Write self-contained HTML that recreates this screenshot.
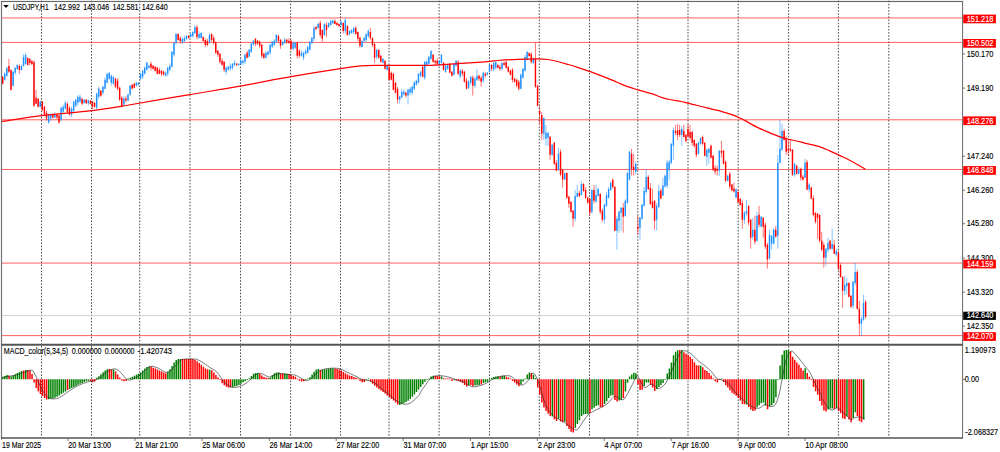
<!DOCTYPE html><html><head><meta charset="utf-8"><style>html,body{margin:0;padding:0;background:#fff;width:1000px;height:452px;overflow:hidden}</style></head><body><svg width="1000" height="452" viewBox="0 0 1000 452" style="display:block;position:absolute;left:0;top:0">
<rect width="1000" height="452" fill="#fff"/>
<rect x="0" y="0" width="1" height="439" fill="#f0f0f0"/><rect x="0" y="0" width="964" height="1" fill="#f0f0f0"/>
<path d="M41.50 0.7V343.5M41.50 346.1V437M91.50 0.7V343.5M91.50 346.1V437M139.70 0.7V343.5M139.70 346.1V437M190.00 0.7V343.5M190.00 346.1V437M240.50 0.7V343.5M240.50 346.1V437M290.60 0.7V343.5M290.60 346.1V437M340.50 0.7V343.5M340.50 346.1V437M389.00 0.7V343.5M389.00 346.1V437M439.10 0.7V343.5M439.10 346.1V437M489.50 0.7V343.5M489.50 346.1V437M539.30 0.7V343.5M539.30 346.1V437M589.50 0.7V343.5M589.50 346.1V437M637.80 0.7V343.5M637.80 346.1V437M688.00 0.7V343.5M688.00 346.1V437M738.20 0.7V343.5M738.20 346.1V437M788.60 0.7V343.5M788.60 346.1V437M838.40 0.7V343.5M838.40 346.1V437M888.80 0.7V343.5M888.80 346.1V437" stroke="#4c4c4c" stroke-width="1" stroke-dasharray="1.57 1.57" fill="none"/>
<line x1="2" x2="962.5" y1="17.96" y2="17.96" stroke="#ff0000" stroke-width="0.78" stroke-opacity="0.8"/>
<line x1="2" x2="962.5" y1="42.4" y2="42.4" stroke="#ff0000" stroke-width="0.78" stroke-opacity="0.8"/>
<line x1="2" x2="962.5" y1="119.8" y2="119.8" stroke="#ff0000" stroke-width="0.78" stroke-opacity="0.8"/>
<line x1="2" x2="962.5" y1="169.5" y2="169.5" stroke="#ff0000" stroke-width="0.78" stroke-opacity="0.8"/>
<line x1="2" x2="962.5" y1="263.1" y2="263.1" stroke="#ff0000" stroke-width="0.78" stroke-opacity="0.8"/>
<line x1="2" x2="962.5" y1="335.6" y2="335.6" stroke="#ff0000" stroke-width="0.78" stroke-opacity="0.8"/>
<line x1="2" x2="962.5" y1="315.6" y2="315.6" stroke="#d0d0d0" stroke-width="1"/>
<path d="M2.64 76.0V84.4M8.91 58.9V73.0M11.00 69.3V90.8M19.36 64.4V73.8M27.71 57.3V65.5M29.80 58.1V65.0M31.89 60.2V65.2M33.98 60.4V106.6M36.07 89.8V104.3M38.16 98.1V107.4M42.34 100.9V111.0M44.43 105.6V115.4M46.52 110.7V120.3M52.79 112.9V118.4M56.97 113.7V119.5M59.06 115.0V123.7M67.41 102.0V113.0M69.50 106.3V115.7M82.04 97.8V105.3M86.22 99.1V103.9M90.40 100.1V104.4M92.49 100.8V109.0M94.58 102.1V107.7M100.85 90.0V96.7M115.47 77.9V88.1M117.56 78.2V90.4M119.65 86.6V101.2M121.74 96.1V107.3M125.92 96.3V102.6M132.19 84.1V89.3M134.28 83.0V88.3M150.99 61.6V70.5M153.08 64.7V69.9M155.17 66.1V71.4M157.26 66.9V74.5M159.35 67.6V74.4M161.44 70.1V76.3M163.53 70.5V75.4M178.16 33.1V40.6M180.25 35.8V43.6M188.61 35.0V38.5M196.96 24.8V39.6M203.23 36.2V41.6M205.32 38.4V47.2M207.41 38.7V46.0M211.59 33.3V41.4M213.68 35.5V44.8M215.77 41.0V53.9M217.86 50.2V56.8M219.95 53.0V63.8M222.04 58.1V65.7M224.13 60.8V72.3M236.66 62.9V66.0M247.11 50.7V58.4M255.47 38.2V46.2M257.56 40.0V44.9M259.65 40.5V48.2M261.74 43.8V58.2M263.83 52.6V59.0M278.45 34.6V42.8M280.54 39.2V48.8M286.81 38.5V43.7M288.90 38.4V43.9M290.99 39.4V50.0M297.26 41.7V58.3M299.35 49.1V58.0M316.06 26.2V30.6M320.24 20.6V37.5M322.33 29.2V41.8M326.51 22.1V36.8M334.87 19.2V24.5M336.96 21.6V25.9M339.05 23.3V26.7M343.23 22.3V33.6M347.41 25.3V35.6M355.77 25.8V34.6M357.86 31.2V41.3M359.94 36.5V47.5M370.39 28.0V40.1M372.48 37.3V47.1M374.57 42.8V62.8M378.75 49.1V58.5M380.84 54.6V62.5M385.02 60.2V69.5M389.20 65.9V80.5M391.29 71.6V80.4M393.38 72.9V90.3M395.47 82.0V93.3M397.56 86.9V103.6M405.91 91.5V97.8M422.63 66.0V77.4M433.08 54.2V62.8M435.17 60.1V65.4M437.26 58.1V65.0M443.52 62.2V70.7M449.79 63.2V73.5M451.88 71.1V76.7M458.15 60.4V75.0M462.33 69.0V76.0M464.42 70.8V82.5M466.51 78.0V89.3M472.78 75.4V95.6M479.05 74.6V80.9M481.14 75.8V86.8M485.31 72.2V77.5M491.58 64.2V71.0M497.85 63.7V68.4M499.94 64.8V70.7M504.12 61.3V65.5M506.21 60.1V68.6M508.30 66.2V72.6M510.39 69.1V75.5M512.48 68.0V82.5M514.57 77.7V82.7M516.66 78.7V87.4M518.75 79.9V90.7M529.19 52.3V56.7M531.28 52.3V63.5M535.46 42.6V87.8M537.55 84.7V106.3M539.64 106.0V123.9M541.73 112.2V139.8M550.09 136.1V159.7M554.27 142.2V164.9M556.36 160.1V171.3M560.54 149.4V176.3M562.63 168.9V187.6M566.81 172.4V199.0M568.89 195.8V207.8M570.98 201.2V212.6M573.07 210.0V226.7M579.34 190.4V197.6M583.52 183.0V191.8M585.61 187.1V199.2M587.70 197.0V203.8M589.79 198.1V215.8M593.97 184.9V203.4M600.24 193.0V214.4M602.33 208.5V221.8M612.77 178.1V188.4M614.86 186.1V231.3M623.22 202.8V232.7M631.58 148.8V175.6M633.67 153.7V175.6M637.85 215.8V234.7M648.30 175.1V189.9M650.38 182.9V205.0M652.47 188.9V208.6M654.56 200.2V229.7M660.83 188.4V199.3M675.46 124.9V134.9M677.55 123.9V139.9M679.64 124.9V137.1M683.82 124.9V137.5M685.91 133.7V142.5M688.00 123.9V137.6M690.09 124.9V139.8M692.18 130.8V145.8M694.26 139.3V147.8M696.35 143.1V157.2M702.62 135.4V145.5M704.71 142.2V156.4M710.98 144.4V158.4M713.07 155.0V170.8M715.16 165.1V174.7M717.25 165.7V175.7M721.43 140.9V157.8M723.52 150.0V164.3M725.61 160.6V182.3M729.79 172.1V189.1M731.88 183.9V191.2M733.97 182.7V192.6M738.14 189.9V203.7M740.23 197.7V205.6M742.32 200.2V228.8M748.59 205.1V225.4M750.68 218.7V248.7M754.86 215.8V244.3M759.04 205.9V227.5M763.22 217.2V237.7M765.31 222.4V249.0M767.40 242.9V268.6M775.75 225.8V237.6M784.11 128.9V140.5M786.20 136.2V154.8M788.29 139.9V155.8M790.38 139.9V151.8M792.47 149.2V175.8M796.65 165.1V174.6M800.83 167.7V180.7M802.92 174.8V180.3M807.10 159.7V190.4M811.28 186.8V199.3M813.37 195.3V216.3M815.46 212.1V223.6M817.55 213.0V238.8M819.63 214.3V242.6M821.72 231.8V251.2M823.81 242.2V267.6M830.08 239.8V249.5M834.26 239.8V254.4M838.44 250.6V270.5M840.53 263.5V277.7M842.62 276.1V307.7M848.89 282.1V297.4M850.98 295.2V308.0M857.25 269.9V309.4M859.34 300.8V335.6M865.60 300.3V318.7" stroke="#ff0000" stroke-width="0.55" fill="none"/>
<path d="M4.73 72.3V80.4M6.82 66.6V76.7M13.09 71.2V86.4M15.18 66.9V74.9M17.27 64.2V69.6M21.45 64.5V70.8M23.54 54.2V66.5M25.62 52.7V64.7M40.25 100.1V107.7M48.61 113.9V123.9M50.70 113.4V120.9M54.88 111.9V118.3M61.15 107.1V121.2M63.24 104.8V113.0M65.33 100.4V109.5M71.59 106.5V117.2M73.68 100.6V112.2M75.77 99.1V107.4M77.86 95.2V105.5M79.95 94.6V102.5M84.13 99.1V103.8M88.31 99.7V105.2M96.67 92.5V110.0M98.76 86.7V99.0M102.94 85.9V95.1M105.03 77.2V89.4M107.12 73.2V83.5M109.20 72.1V79.9M111.29 74.5V85.8M113.38 76.2V84.8M123.83 96.2V106.5M128.01 93.7V101.5M130.10 85.0V96.1M136.37 81.8V86.3M138.46 82.1V85.3M140.55 73.1V79.6M142.64 70.1V79.0M144.73 66.3V74.4M146.82 62.0V70.6M148.91 64.9V68.4M165.62 71.5V76.3M167.71 66.5V76.4M169.80 63.5V71.4M171.89 51.1V67.6M173.98 42.2V56.7M176.07 32.7V44.8M182.34 36.7V43.9M184.43 35.8V42.7M186.52 35.2V40.1M190.69 33.3V37.7M192.78 31.2V37.6M194.87 24.7V34.0M199.05 31.3V38.8M201.14 32.2V38.6M209.50 33.4V43.9M226.22 66.0V74.7M228.31 66.1V70.4M230.40 63.4V70.8M232.49 63.1V69.8M234.57 60.1V66.3M238.75 63.1V65.6M240.84 58.1V65.3M242.93 59.5V65.2M245.02 53.7V64.0M249.20 49.0V57.5M251.29 43.1V53.1M253.38 40.1V45.8M265.92 51.6V58.3M268.01 50.7V55.4M270.10 44.2V54.8M272.19 41.2V47.9M274.27 39.1V46.1M276.36 34.0V43.0M282.63 41.1V45.6M284.72 37.9V44.0M293.08 41.6V50.4M295.17 41.8V49.0M301.44 50.2V56.5M303.53 51.5V60.3M305.62 48.6V54.4M307.71 46.2V53.8M309.80 41.2V50.5M311.89 37.2V44.4M313.98 25.9V41.2M318.15 22.4V28.5M324.42 23.0V36.0M328.60 22.3V27.9M330.69 19.7V25.8M332.78 19.8V24.1M341.14 20.5V26.1M345.32 18.1V33.6M349.50 30.3V35.8M351.59 29.1V33.5M353.68 26.9V34.3M362.03 40.3V47.5M364.12 36.3V41.9M366.21 33.3V42.4M368.30 29.5V37.9M376.66 48.6V59.3M382.93 58.2V63.5M387.11 65.0V70.6M399.65 96.0V103.6M401.73 89.1V98.3M403.82 89.6V95.7M408.00 88.7V104.6M410.09 87.0V95.4M412.18 85.8V94.8M414.27 81.0V90.2M416.36 79.7V85.6M418.45 73.1V83.3M420.54 71.1V77.5M424.72 61.2V79.9M426.81 59.5V66.4M428.90 56.0V64.5M430.99 50.1V59.9M439.35 60.1V66.4M441.44 54.0V63.7M445.61 64.7V72.9M447.70 64.1V69.9M453.97 63.2V75.3M456.06 60.0V66.5M460.24 68.9V78.3M468.60 80.0V89.2M470.69 76.1V84.8M474.87 76.9V87.7M476.96 68.8V80.9M483.23 71.5V83.1M487.40 72.1V75.4M489.49 64.2V72.7M493.67 61.6V71.3M495.76 60.4V69.5M502.03 61.7V70.1M520.84 73.3V89.4M522.93 68.2V78.5M525.01 55.1V71.6M527.10 50.6V60.5M533.37 57.3V63.7M543.82 117.3V139.8M545.91 124.9V145.8M548.00 131.8V145.8M552.18 144.1V156.1M558.45 147.8V170.8M564.72 172.5V180.2M575.16 189.9V221.7M577.25 184.9V197.5M581.43 181.5V195.6M591.88 189.3V213.9M596.06 184.9V202.6M598.15 187.7V196.5M604.42 203.3V223.7M606.51 192.3V207.1M608.60 187.1V198.4M610.68 181.1V190.9M616.95 216.3V249.6M619.04 210.7V232.7M621.13 207.0V230.7M625.31 199.3V216.6M627.40 171.7V203.8M629.49 151.1V180.3M635.76 161.3V174.4M639.94 217.1V239.6M642.03 204.0V219.4M644.12 186.9V206.6M646.21 169.0V194.2M656.65 203.1V230.7M658.74 184.9V208.3M662.92 177.7V196.3M665.01 174.7V187.7M667.10 160.1V187.8M669.19 159.5V179.7M671.28 143.2V164.5M673.37 127.5V159.8M681.73 126.2V145.8M698.44 141.3V154.6M700.53 137.2V144.6M706.80 148.6V165.7M708.89 147.9V163.7M719.34 150.1V175.7M727.70 174.7V181.4M736.05 188.0V198.3M744.41 210.8V223.8M746.50 199.9V215.7M752.77 217.8V239.7M756.95 211.8V241.6M761.13 216.2V227.4M769.49 229.8V259.5M771.58 235.1V249.7M773.67 227.9V244.3M777.84 155.0V248.7M779.93 120.0V163.3M782.02 123.9V150.7M794.56 162.8V176.7M798.74 167.3V174.3M805.01 158.8V178.3M809.19 182.8V192.0M825.90 248.0V265.6M827.99 237.8V252.3M832.17 228.8V249.9M836.35 248.7V256.5M844.71 275.9V294.8M846.80 277.9V294.8M853.07 281.0V308.5M855.16 263.0V285.6M861.42 317.0V335.6M863.51 294.8V320.7" stroke="#1e90ff" stroke-width="0.55" fill="none"/>
<path d="M2.64 76.8V83.8M8.91 65.9V71.8M11.00 69.9V89.8M19.36 65.9V69.9M27.71 57.9V64.9M29.80 58.9V62.9M31.89 60.9V63.9M33.98 61.9V105.7M36.07 97.7V103.7M38.16 98.7V106.7M42.34 101.7V109.7M44.43 106.7V114.6M46.52 112.7V118.6M52.79 114.6V117.6M56.97 114.6V117.6M59.06 115.6V122.6M67.41 103.7V111.7M69.50 107.7V114.6M82.04 98.7V103.7M86.22 99.7V103.3M90.40 100.7V103.7M92.49 101.7V106.7M94.58 102.7V106.7M100.85 90.8V95.7M115.47 78.8V86.8M117.56 80.8V88.8M119.65 87.8V99.7M121.74 97.7V106.7M125.92 98.6V100.6M132.19 84.7V88.6M134.28 83.7V87.7M150.99 63.8V67.7M153.08 65.8V68.7M155.17 66.8V70.7M157.26 67.7V73.7M159.35 69.7V73.7M161.44 70.7V73.7M163.53 71.7V74.7M178.16 33.9V39.9M180.25 37.9V40.9M188.61 35.9V37.9M196.96 27.3V36.9M203.23 36.9V40.9M205.32 39.9V44.9M207.41 40.9V44.9M211.59 33.9V39.9M213.68 37.9V42.9M215.77 42.9V52.8M217.86 50.8V54.8M219.95 53.8V61.8M222.04 60.8V64.8M224.13 61.8V69.7M236.66 63.8V64.8M247.11 52.8V57.7M255.47 38.8V43.8M257.56 40.8V43.8M259.65 41.8V45.8M261.74 44.8V55.8M263.83 53.8V57.7M278.45 35.9V40.8M280.54 39.8V45.8M286.81 39.8V41.8M288.90 40.8V42.8M290.99 40.8V48.8M297.26 42.8V55.8M299.35 50.8V55.8M316.06 26.9V28.9M320.24 22.9V34.9M322.33 29.9V38.8M326.51 24.9V29.9M334.87 20.9V23.9M336.96 22.9V24.9M339.05 23.9V25.9M343.23 22.9V30.9M347.41 25.9V34.9M355.77 27.9V33.9M357.86 31.9V38.8M359.94 37.8V45.8M370.39 31.9V37.9M372.48 37.9V44.9M374.57 43.9V57.8M378.75 49.9V57.8M380.84 55.8V61.8M385.02 60.8V68.8M389.20 67.8V79.7M391.29 72.7V79.7M393.38 73.7V89.7M395.47 82.7V92.7M397.56 88.7V99.6M405.91 92.7V95.6M422.63 66.8V76.7M433.08 54.8V61.8M435.17 60.8V62.8M437.26 60.8V63.8M443.52 62.8V69.8M449.79 63.8V72.7M451.88 71.8V75.7M458.15 61.8V73.7M462.33 70.8V73.7M464.42 71.8V81.7M466.51 80.7V88.7M472.78 77.7V85.7M479.05 75.8V78.8M481.14 77.8V81.8M485.31 73.8V75.8M491.58 64.9V68.8M497.85 64.9V67.8M499.94 66.8V68.8M504.12 62.9V64.9M506.21 61.9V67.8M508.30 66.8V71.8M510.39 70.8V74.8M512.48 69.8V79.8M514.57 78.8V81.8M516.66 79.8V85.8M518.75 81.8V88.7M529.19 52.9V55.9M531.28 53.9V61.9M535.46 58.9V86.8M537.55 85.8V105.7M539.64 110.9V113.9M541.73 114.9V133.8M550.09 136.8V154.7M554.27 142.8V163.7M556.36 162.7V170.7M560.54 151.8V174.6M562.63 169.7V179.6M566.81 173.0V197.8M568.89 196.8V203.8M570.98 201.8V211.8M573.07 210.8V218.7M579.34 192.9V195.9M583.52 183.9V190.9M585.61 189.9V197.8M587.70 197.8V202.8M589.79 198.8V212.8M593.97 189.9V200.8M600.24 193.9V211.8M602.33 210.8V219.7M612.77 179.9V186.9M614.86 186.9V230.7M623.22 207.8V216.8M631.58 153.7V168.7M633.67 166.7V169.7M637.85 226.7V228.7M648.30 176.9V188.9M650.38 187.9V203.8M652.47 201.8V207.8M654.56 200.8V220.7M660.83 190.6V198.6M675.46 130.9V132.9M677.55 129.9V134.9M679.64 129.9V134.9M683.82 130.9V136.9M685.91 134.9V140.9M688.00 128.9V135.9M690.09 131.9V137.9M692.18 131.9V142.8M694.26 139.9V145.8M696.35 143.8V154.8M702.62 136.9V143.8M704.71 142.8V155.8M710.98 145.8V157.8M713.07 155.8V169.7M715.16 167.7V171.7M717.25 168.7V170.7M721.43 150.8V152.8M723.52 150.8V163.7M725.61 161.8V180.7M729.79 173.7V186.6M731.88 184.6V190.6M733.97 188.6V191.6M738.14 191.9V201.9M740.23 198.9V204.9M742.32 202.9V219.8M748.59 205.9V222.8M750.68 219.8V237.7M754.86 229.8V241.7M759.04 214.8V224.8M763.22 217.8V226.8M765.31 224.8V246.7M767.40 244.7V259.6M775.75 229.8V236.7M784.11 130.9V139.9M786.20 138.9V151.8M788.29 148.8V150.8M790.38 148.8V150.8M792.47 149.8V174.7M796.65 165.7V173.7M800.83 168.7V177.7M802.92 176.7V179.7M807.10 162.1V189.6M811.28 187.6V198.6M813.37 198.0V214.9M815.46 212.9V221.8M817.55 213.8V217.8M819.63 214.9V240.8M821.72 240.8V249.7M823.81 244.7V257.7M830.08 240.8V248.7M834.26 244.7V253.7M838.44 252.7V268.6M840.53 265.0V276.9M842.62 276.9V290.8M848.89 282.9V296.8M850.98 295.8V306.8M857.25 271.9V308.7M859.34 308.7V323.7M865.60 301.8V316.7" stroke="#ff0000" stroke-width="1.42" fill="none"/>
<path d="M4.73 73.8V79.8M6.82 67.9V75.8M13.09 71.8V85.8M15.18 67.9V72.8M17.27 64.9V68.9M21.45 65.9V69.9M23.54 56.9V65.9M25.62 54.9V63.9M40.25 101.7V106.7M48.61 114.6V122.6M50.70 114.6V118.6M54.88 114.6V117.6M61.15 107.7V119.6M63.24 106.7V111.7M65.33 102.7V108.7M71.59 108.7V114.6M73.68 101.7V110.7M75.77 99.7V105.7M77.86 96.7V102.7M79.95 96.7V101.7M84.13 99.7V102.7M88.31 100.3V103.3M96.67 93.7V107.7M98.76 88.8V96.7M102.94 86.8V92.7M105.03 79.8V88.8M107.12 73.8V82.8M109.20 72.8V78.8M111.29 75.8V82.8M113.38 76.8V83.8M123.83 98.6V104.6M128.01 94.6V100.6M130.10 85.7V94.6M136.37 82.7V85.7M138.46 82.7V84.7M140.55 73.7V78.7M142.64 70.7V76.7M144.73 67.7V73.7M146.82 62.8V69.7M148.91 65.8V67.7M165.62 72.7V75.7M167.71 67.7V73.7M169.80 65.8V69.7M171.89 51.8V66.8M173.98 42.9V54.8M176.07 33.9V42.9M182.34 38.9V41.9M184.43 37.9V40.9M186.52 35.9V38.9M190.69 33.9V36.9M192.78 31.9V35.9M194.87 27.3V32.9M199.05 33.9V37.9M201.14 32.9V37.9M209.50 34.9V41.9M226.22 67.7V71.7M228.31 66.8V69.7M230.40 65.8V68.7M232.49 63.8V67.7M234.57 62.8V64.8M238.75 63.8V65.0M240.84 60.8V63.8M242.93 60.7V62.7M245.02 54.8V61.7M249.20 49.8V56.8M251.29 43.8V51.8M253.38 40.8V44.8M265.92 52.8V57.7M268.01 51.8V54.8M270.10 44.8V52.8M272.19 41.8V46.8M274.27 40.8V44.8M276.36 34.9V41.8M282.63 41.8V44.8M284.72 39.8V42.8M293.08 42.8V48.8M295.17 42.8V47.8M301.44 52.8V55.8M303.53 52.8V57.7M305.62 50.8V53.8M307.71 46.8V52.8M309.80 41.8V49.8M311.89 37.8V42.8M313.98 27.9V38.8M318.15 23.9V27.9M324.42 23.9V34.9M328.60 22.9V26.9M330.69 20.9V24.9M332.78 20.5V23.3M341.14 21.9V24.9M345.32 19.9V30.9M349.50 30.9V33.9M351.59 29.9V32.9M353.68 27.9V31.9M362.03 40.9V46.9M364.12 37.9V40.9M366.21 33.9V39.9M368.30 30.9V35.9M376.66 49.9V56.8M382.93 58.8V62.8M387.11 65.8V69.8M399.65 96.6V99.6M401.73 91.7V97.6M403.82 91.7V94.6M408.00 89.7V95.6M410.09 88.7V92.7M412.18 86.7V92.7M414.27 82.7V88.7M416.36 80.7V84.7M418.45 73.7V82.7M420.54 71.8V75.7M424.72 61.8V77.7M426.81 61.8V64.8M428.90 56.8V63.8M430.99 50.9V58.8M439.35 60.8V63.8M441.44 54.8V62.8M445.61 65.8V71.8M447.70 64.8V68.8M453.97 63.8V74.7M456.06 60.8V65.8M460.24 70.8V76.7M468.60 81.7V87.7M470.69 76.7V82.7M474.87 78.7V85.7M476.96 75.7V79.7M483.23 72.8V80.8M487.40 72.8V74.8M489.49 64.9V71.8M493.67 62.9V69.8M495.76 61.9V67.8M502.03 62.9V68.8M520.84 74.8V88.7M522.93 68.8V77.8M525.01 56.9V70.8M527.10 51.9V59.9M533.37 58.9V62.9M543.82 117.9V133.8M545.91 132.8V138.8M548.00 132.8V137.8M552.18 144.8V154.7M558.45 153.7V169.7M564.72 173.6V179.6M575.16 195.9V218.7M577.25 192.9V196.8M581.43 183.9V194.9M591.88 189.9V211.8M596.06 194.9V201.8M598.15 188.9V195.9M604.42 204.8V219.7M606.51 194.9V205.8M608.60 188.9V197.8M610.68 182.9V189.9M616.95 218.7V230.7M619.04 211.8V220.7M621.13 207.8V212.8M625.31 200.8V215.8M627.40 173.0V202.8M629.49 151.8V179.6M635.76 163.7V171.7M639.94 217.7V227.7M642.03 204.8V218.7M644.12 190.9V205.8M646.21 176.9V191.9M656.65 205.8V219.7M658.74 190.9V206.8M662.92 185.6V195.6M665.01 175.7V186.6M667.10 162.7V185.6M669.19 161.8V169.7M671.28 143.8V162.7M673.37 129.9V145.8M681.73 128.9V134.9M698.44 142.8V153.8M700.53 137.9V143.8M706.80 149.8V156.8M708.89 148.8V152.8M719.34 150.8V170.7M727.70 175.7V180.7M736.05 189.6V197.6M744.41 212.8V219.8M746.50 210.9V213.8M752.77 229.8V236.7M756.95 215.8V240.7M761.13 216.8V226.8M769.49 234.7V258.6M771.58 235.7V243.7M773.67 229.8V243.7M777.84 162.7V235.7M779.93 148.8V162.7M782.02 130.9V149.8M794.56 163.7V174.7M798.74 169.7V173.7M805.01 162.7V177.7M809.19 184.6V189.6M825.90 248.7V257.7M827.99 242.7V249.7M832.17 243.7V248.7M836.35 250.7V254.7M844.71 284.9V290.8M846.80 282.9V285.9M853.07 281.9V305.8M855.16 271.9V282.9M861.42 318.7V323.7M863.51 302.8V319.7" stroke="#1e90ff" stroke-width="1.42" fill="none"/>
<path d="M1.6 121.6C8.3 120.6 26.8 117.4 41.8 115.6C56.8 113.8 77.6 112.4 91.6 110.7C105.6 109.0 109.7 108.2 126.0 105.5C142.3 102.8 170.7 97.8 189.7 94.6C208.7 91.4 223.2 89.2 240.0 86.2C256.9 83.2 274.1 79.6 290.8 76.7C307.6 73.8 328.1 70.6 340.5 68.7C352.9 66.8 356.9 66.1 365.0 65.6C373.1 65.0 379.8 65.4 388.9 65.4C398.0 65.4 411.2 65.5 419.7 65.4C428.1 65.3 428.7 65.4 439.6 64.8C450.5 64.2 475.3 62.5 485.0 61.8C494.7 61.1 492.4 60.9 497.9 60.5C503.4 60.1 511.2 59.6 517.8 59.3C524.4 59.0 532.7 58.9 537.7 58.9C542.7 58.9 544.4 59.1 547.7 59.5C551.0 59.9 554.3 60.7 557.6 61.5C560.9 62.3 564.3 63.3 567.6 64.3C570.9 65.3 573.9 66.2 577.5 67.4C581.1 68.6 586.6 70.4 589.5 71.4C592.4 72.4 591.3 71.9 595.0 73.3C598.7 74.7 606.6 77.8 611.6 79.9C616.6 82.0 620.5 84.0 624.9 85.7C629.3 87.4 633.7 88.6 638.1 89.9C642.5 91.2 647.5 92.5 651.4 93.7C655.3 94.9 658.3 96.3 661.4 97.3C664.5 98.3 666.4 98.8 669.7 99.5C673.0 100.2 678.3 100.9 681.3 101.5C684.3 102.1 684.6 102.3 687.9 103.1C691.2 103.9 697.3 105.5 701.2 106.5C705.1 107.5 707.5 108.0 711.1 108.9C714.7 109.8 719.5 110.9 722.8 111.8C726.1 112.7 728.3 113.4 731.1 114.4C733.9 115.4 737.1 116.7 739.4 117.7C741.7 118.7 741.8 118.9 745.0 120.6C748.2 122.3 754.3 125.9 758.5 127.9C762.7 130.0 766.4 131.4 770.0 132.9C773.6 134.4 776.7 135.8 780.0 136.9C783.3 138.0 785.9 138.5 789.9 139.5C793.9 140.5 799.1 141.7 803.8 142.8C808.4 143.9 813.5 144.9 817.8 146.2C822.1 147.5 826.1 149.3 829.7 150.8C833.4 152.3 836.4 153.8 839.7 155.4C843.0 157.0 846.3 158.5 849.6 160.2C852.9 161.9 857.0 164.2 859.6 165.7C862.2 167.2 864.5 168.7 865.5 169.3" stroke="#ff0000" stroke-width="1.25" fill="none" stroke-linejoin="round"/>
<path d="M2.79 379.3V376.9M4.88 379.3V376.0M6.97 379.3V375.1M11.15 379.3V376.5M13.24 379.3V375.6M15.33 379.3V374.3M17.42 379.3V373.1M19.51 379.3V372.1M21.60 379.3V371.1M25.77 379.3V370.0M48.76 379.3V399.2M50.85 379.3V398.7M52.94 379.3V398.4M55.03 379.3V397.7M57.12 379.3V396.8M59.21 379.3V395.4M61.30 379.3V394.0M63.39 379.3V392.7M65.48 379.3V391.5M69.65 379.3V389.0M71.74 379.3V387.9M73.83 379.3V386.9M75.92 379.3V385.9M78.01 379.3V384.8M80.10 379.3V383.8M82.19 379.3V382.9M84.28 379.3V382.0M86.37 379.3V381.2M88.46 379.3V380.7M96.82 379.3V377.7M98.91 379.3V376.2M101.00 379.3V374.3M103.09 379.3V372.2M105.18 379.3V370.6M107.27 379.3V369.3M113.53 379.3V369.5M128.16 379.3V378.6M130.25 379.3V377.8M132.34 379.3V376.7M134.43 379.3V375.7M136.52 379.3V374.6M138.61 379.3V373.7M140.70 379.3V372.5M142.79 379.3V370.4M144.88 379.3V368.6M146.97 379.3V367.0M149.06 379.3V366.4M167.86 379.3V371.8M169.95 379.3V369.2M172.04 379.3V366.0M174.13 379.3V362.6M176.22 379.3V360.0M178.31 379.3V358.9M180.40 379.3V359.0M209.65 379.3V369.7M232.64 379.3V387.2M234.72 379.3V386.6M236.81 379.3V385.9M238.90 379.3V385.1M240.99 379.3V383.7M243.08 379.3V382.2M245.17 379.3V381.2M247.26 379.3V380.0M249.35 379.3V378.3M251.44 379.3V375.9M253.53 379.3V373.7M255.62 379.3V372.9M257.71 379.3V372.9M270.25 379.3V377.4M272.34 379.3V375.3M274.42 379.3V373.2M276.51 379.3V372.4M278.60 379.3V372.4M284.87 379.3V373.5M286.96 379.3V373.8M305.77 379.3V380.0M307.86 379.3V378.6M309.95 379.3V377.2M312.04 379.3V374.5M314.13 379.3V371.7M316.21 379.3V369.5M318.30 379.3V369.1M322.48 379.3V369.7M324.57 379.3V369.4M326.66 379.3V369.0M328.75 379.3V368.7M330.84 379.3V368.3M332.93 379.3V368.4M366.36 379.3V380.0M368.45 379.3V378.6M399.80 379.3V405.0M401.88 379.3V404.1M403.97 379.3V403.3M406.06 379.3V402.1M408.15 379.3V400.8M410.24 379.3V398.9M412.33 379.3V396.8M414.42 379.3V394.4M416.51 379.3V391.9M418.60 379.3V389.4M420.69 379.3V386.9M422.78 379.3V384.3M424.87 379.3V381.8M426.96 379.3V380.0M429.05 379.3V378.6M431.14 379.3V376.4M433.23 379.3V375.7M441.58 379.3V376.5M454.12 379.3V380.2M468.75 379.3V385.5M475.02 379.3V385.5M477.11 379.3V385.2M479.20 379.3V384.9M483.38 379.3V383.0M485.46 379.3V382.3M487.55 379.3V381.7M489.64 379.3V380.0M491.73 379.3V377.7M493.82 379.3V376.9M495.91 379.3V376.4M498.00 379.3V376.2M502.18 379.3V375.7M504.27 379.3V375.7M520.99 379.3V384.4M523.08 379.3V381.5M525.16 379.3V378.5M527.25 379.3V374.6M529.34 379.3V372.4M533.52 379.3V374.7M535.61 379.3V377.9M552.33 379.3V416.5M558.60 379.3V418.7M564.87 379.3V421.8M575.31 379.3V427.9M577.40 379.3V424.0M579.49 379.3V420.2M581.58 379.3V416.0M583.67 379.3V414.6M585.76 379.3V413.9M587.85 379.3V413.9M592.03 379.3V409.3M594.12 379.3V407.7M596.21 379.3V406.0M598.30 379.3V405.3M604.57 379.3V404.0M606.66 379.3V401.2M608.75 379.3V398.1M610.83 379.3V395.4M612.92 379.3V395.3M619.19 379.3V400.4M621.28 379.3V399.8M625.46 379.3V391.5M627.55 379.3V382.8M629.64 379.3V376.5M631.73 379.3V374.4M633.82 379.3V372.7M635.91 379.3V373.3M644.27 379.3V386.0M646.36 379.3V382.5M648.45 379.3V382.4M656.80 379.3V389.1M658.89 379.3V386.9M660.98 379.3V385.0M663.07 379.3V383.1M665.16 379.3V380.1M667.25 379.3V373.4M669.34 379.3V368.4M671.43 379.3V362.4M673.52 379.3V355.3M675.61 379.3V351.8M677.70 379.3V350.3M681.88 379.3V350.0M700.68 379.3V365.5M721.58 379.3V378.6M746.65 379.3V404.5M757.10 379.3V407.3M759.19 379.3V405.2M761.28 379.3V403.2M763.37 379.3V402.4M765.46 379.3V405.5M769.64 379.3V406.6M771.73 379.3V405.3M773.82 379.3V402.9M775.90 379.3V397.2M777.99 379.3V380.1M780.08 379.3V365.4M782.17 379.3V354.8M784.26 379.3V350.6M786.35 379.3V349.9M788.44 379.3V350.1M805.16 379.3V368.3M828.14 379.3V409.4M830.23 379.3V408.4M832.32 379.3V408.4M836.50 379.3V408.0M846.95 379.3V416.5M853.22 379.3V417.9M855.31 379.3V412.2M863.66 379.3V419.4" stroke="#008000" stroke-width="1.5" fill="none"/>
<path d="M9.06 379.3V375.4M23.69 379.3V370.4M27.86 379.3V369.9M29.95 379.3V370.4M32.04 379.3V373.9M34.13 379.3V382.5M36.22 379.3V387.9M38.31 379.3V391.2M40.40 379.3V393.9M42.49 379.3V396.1M44.58 379.3V398.0M46.67 379.3V399.4M67.56 379.3V390.1M90.55 379.3V381.3M92.64 379.3V382.2M94.73 379.3V381.5M109.35 379.3V369.0M111.44 379.3V369.4M115.62 379.3V371.6M117.71 379.3V374.6M119.80 379.3V377.4M121.89 379.3V380.6M123.98 379.3V381.3M126.07 379.3V380.9M151.14 379.3V366.8M153.23 379.3V367.7M155.32 379.3V368.6M157.41 379.3V369.5M159.50 379.3V370.5M161.59 379.3V371.6M163.68 379.3V372.4M165.77 379.3V373.2M182.49 379.3V359.1M184.58 379.3V359.1M186.67 379.3V359.1M188.76 379.3V359.1M190.84 379.3V359.1M192.93 379.3V359.1M195.02 379.3V359.9M197.11 379.3V361.3M199.20 379.3V362.9M201.29 379.3V364.8M203.38 379.3V366.8M205.47 379.3V368.4M207.56 379.3V369.3M211.74 379.3V370.3M213.83 379.3V372.4M215.92 379.3V374.9M218.01 379.3V377.4M220.10 379.3V379.9M222.19 379.3V383.2M224.28 379.3V385.2M226.37 379.3V386.8M228.46 379.3V387.5M230.55 379.3V387.6M259.80 379.3V373.8M261.89 379.3V375.6M263.98 379.3V377.0M266.07 379.3V377.8M268.16 379.3V378.1M280.69 379.3V373.5M282.78 379.3V373.5M289.05 379.3V374.0M291.14 379.3V375.0M293.23 379.3V376.0M295.32 379.3V376.8M297.41 379.3V378.6M299.50 379.3V380.7M301.59 379.3V381.5M303.68 379.3V381.2M320.39 379.3V369.9M335.02 379.3V368.6M337.11 379.3V369.0M339.20 379.3V369.4M341.29 379.3V370.6M343.38 379.3V372.0M345.47 379.3V373.3M347.56 379.3V374.6M349.65 379.3V375.4M351.74 379.3V376.1M353.83 379.3V376.9M355.92 379.3V377.7M358.00 379.3V378.6M360.09 379.3V381.1M362.18 379.3V382.3M364.27 379.3V382.1M370.54 379.3V381.6M372.63 379.3V383.7M374.72 379.3V385.8M376.81 379.3V387.4M378.90 379.3V389.0M380.99 379.3V390.5M383.08 379.3V392.1M385.17 379.3V393.6M387.26 379.3V395.4M389.35 379.3V397.1M391.44 379.3V398.9M393.53 379.3V400.6M395.62 379.3V402.5M397.71 379.3V404.6M435.32 379.3V375.8M437.41 379.3V376.0M439.50 379.3V376.3M443.67 379.3V378.2M445.76 379.3V378.4M447.85 379.3V378.6M449.94 379.3V378.6M452.03 379.3V381.1M456.21 379.3V380.5M458.30 379.3V381.1M460.39 379.3V381.9M462.48 379.3V383.0M464.57 379.3V384.9M466.66 379.3V386.5M470.84 379.3V385.1M472.93 379.3V386.2M481.29 379.3V384.6M500.09 379.3V376.5M506.36 379.3V376.7M508.45 379.3V377.5M510.54 379.3V378.4M512.63 379.3V381.1M514.72 379.3V382.6M516.81 379.3V384.6M518.90 379.3V386.3M531.43 379.3V373.0M537.70 379.3V387.4M539.79 379.3V394.7M541.88 379.3V402.5M543.97 379.3V407.6M546.06 379.3V411.0M548.15 379.3V413.8M550.24 379.3V416.1M554.42 379.3V419.3M556.51 379.3V420.9M560.69 379.3V421.6M562.78 379.3V422.3M566.96 379.3V426.1M569.04 379.3V428.9M571.13 379.3V431.8M573.22 379.3V432.4M589.94 379.3V412.8M600.39 379.3V407.1M602.48 379.3V407.3M615.01 379.3V400.0M617.10 379.3V401.4M623.37 379.3V397.9M638.00 379.3V384.6M640.09 379.3V390.1M642.18 379.3V389.7M650.53 379.3V384.7M652.62 379.3V387.6M654.71 379.3V391.0M679.79 379.3V349.9M683.97 379.3V352.2M686.06 379.3V353.8M688.15 379.3V354.8M690.24 379.3V356.7M692.33 379.3V359.1M694.41 379.3V362.3M696.50 379.3V365.3M698.59 379.3V365.6M702.77 379.3V367.3M704.86 379.3V370.1M706.95 379.3V371.1M709.04 379.3V372.9M711.13 379.3V375.6M713.22 379.3V378.5M715.31 379.3V381.3M717.40 379.3V382.4M719.49 379.3V380.0M723.67 379.3V381.9M725.76 379.3V385.3M727.85 379.3V387.4M729.94 379.3V390.3M732.03 379.3V392.8M734.12 379.3V394.2M736.20 379.3V395.8M738.29 379.3V398.1M740.38 379.3V400.6M742.47 379.3V404.1M744.56 379.3V404.2M748.74 379.3V407.0M750.83 379.3V409.6M752.92 379.3V410.9M755.01 379.3V410.6M767.55 379.3V409.2M790.53 379.3V351.4M792.62 379.3V356.8M794.71 379.3V359.7M796.80 379.3V362.6M798.89 379.3V364.7M800.98 379.3V367.7M803.07 379.3V370.6M807.25 379.3V373.1M809.34 379.3V376.7M811.43 379.3V380.0M813.52 379.3V387.1M815.61 379.3V391.2M817.70 379.3V394.8M819.78 379.3V400.9M821.87 379.3V405.4M823.96 379.3V410.5M826.05 379.3V411.4M834.41 379.3V408.9M838.59 379.3V410.9M840.68 379.3V413.3M842.77 379.3V418.3M844.86 379.3V418.9M849.04 379.3V419.4M851.13 379.3V422.2M857.40 379.3V416.1M859.49 379.3V420.9M861.57 379.3V422.3" stroke="#ff0000" stroke-width="1.5" fill="none"/>
<path d="M1.7 377.4C4.1 376.9 11.8 376.1 16.6 374.9C21.4 373.7 27.7 370.4 30.7 370.2C33.7 370.1 33.6 372.2 34.8 374.0C36.1 375.9 36.8 378.6 38.2 381.5C39.5 384.4 41.5 388.8 43.1 391.5C44.8 394.1 46.2 396.0 48.1 397.3C50.1 398.5 52.5 399.1 54.8 398.9C57.0 398.8 58.9 397.8 61.4 396.4C63.9 395.1 66.9 392.4 69.7 390.6C72.5 388.8 75.2 387.0 78.0 385.7C80.7 384.3 83.8 383.2 86.3 382.3C88.8 381.5 90.7 381.4 92.9 380.7C95.1 380.0 97.3 379.6 99.6 378.2C101.8 376.8 104.0 373.9 106.2 372.4C108.4 370.9 110.9 369.5 112.8 369.1C114.8 368.6 116.1 368.9 117.8 369.9C119.5 370.9 121.3 373.3 122.8 374.9C124.3 376.5 125.5 378.7 126.9 379.5C128.3 380.3 129.3 380.3 131.1 379.8C132.9 379.3 136.2 377.4 137.7 376.5C139.2 375.7 138.0 376.5 140.0 374.9C142.0 373.2 146.9 367.7 150.0 366.6C153.0 365.5 155.5 367.3 158.3 368.2C161.0 369.2 164.1 372.4 166.5 372.4C169.0 372.4 171.0 370.2 173.2 368.2C175.4 366.3 177.9 362.3 179.8 360.8C181.8 359.2 182.3 359.4 184.8 359.1C187.3 358.8 192.0 358.7 194.8 359.1C197.5 359.5 198.9 360.2 201.4 361.6C203.9 363.0 207.2 365.7 209.7 367.4C212.2 369.1 214.4 369.7 216.3 371.5C218.3 373.3 219.6 376.1 221.3 378.2C223.0 380.3 224.3 382.5 226.3 384.0C228.2 385.5 230.7 386.9 232.9 387.3C235.1 387.7 237.3 387.2 239.6 386.5C241.8 385.8 244.0 384.7 246.2 383.2C248.4 381.6 250.9 379.0 252.8 377.4C254.8 375.8 256.1 374.1 257.8 373.5C259.5 373.0 261.0 373.5 262.8 374.0C264.6 374.6 266.9 376.6 268.6 376.9C270.2 377.1 270.9 376.3 272.7 375.7C274.5 375.1 278.2 373.6 279.4 373.2C280.6 372.8 278.2 373.3 280.0 373.5C281.8 373.8 287.2 374.2 290.0 374.5C292.7 374.9 294.1 374.7 296.6 375.7C299.1 376.7 302.7 379.7 304.9 380.3C307.1 381.0 308.2 380.4 309.9 379.5C311.5 378.6 312.9 376.5 314.8 374.9C316.8 373.3 318.7 371.0 321.5 369.9C324.2 368.8 328.4 368.4 331.4 368.2C334.5 368.0 337.2 368.1 339.7 368.7C342.2 369.3 343.9 370.7 346.4 371.9C348.9 373.0 351.9 374.4 354.7 375.7C357.4 377.0 360.5 379.0 363.0 379.8C365.4 380.7 367.4 380.0 369.6 380.7C371.8 381.4 374.0 382.5 376.2 384.0C378.4 385.5 380.7 388.0 382.9 389.8C385.1 391.6 387.3 393.0 389.5 394.8C391.7 396.6 393.9 399.1 396.1 400.6C398.4 402.1 400.8 403.3 402.8 403.9C404.7 404.5 406.1 404.3 407.8 403.9C409.4 403.5 410.8 402.9 412.7 401.4C414.7 399.9 418.2 396.2 419.4 394.8C420.6 393.4 419.1 394.6 420.0 393.1C420.9 391.6 423.3 388.0 425.0 385.7C426.6 383.3 428.3 380.6 430.0 379.0C431.6 377.4 433.0 376.7 434.9 376.2C436.9 375.6 439.1 375.5 441.6 375.7C444.1 375.9 447.4 376.7 449.9 377.4C452.4 378.0 454.3 379.2 456.5 379.8C458.7 380.5 461.2 380.7 463.1 381.5C465.1 382.3 466.5 383.9 468.1 384.8C469.8 385.7 471.2 386.7 473.1 386.8C475.0 387.0 477.5 386.3 479.7 385.7C481.9 385.0 484.2 384.3 486.4 383.2C488.6 382.1 490.8 380.1 493.0 379.0C495.2 377.9 497.4 377.1 499.6 376.5C501.9 376.0 504.3 375.7 506.3 375.7C508.2 375.7 509.6 375.7 511.3 376.5C512.9 377.4 514.7 379.3 516.2 380.7C517.8 382.1 519.0 384.3 520.4 384.8C521.8 385.4 523.1 384.8 524.5 384.0C525.9 383.2 527.8 381.2 528.7 379.8C529.6 378.5 529.2 376.9 530.0 375.8C530.8 374.7 532.2 373.0 533.3 373.3C534.4 373.6 535.5 375.2 536.6 377.4C537.7 379.7 538.8 383.1 540.0 386.6C541.1 390.0 542.2 394.9 543.3 398.2C544.4 401.5 545.2 403.9 546.6 406.5C548.0 409.1 549.9 412.0 551.6 413.9C553.2 415.9 554.6 416.9 556.5 418.1C558.5 419.3 561.0 420.0 563.2 421.4C565.4 422.8 567.9 425.0 569.8 426.4C571.8 427.8 573.4 429.3 574.8 429.7C576.2 430.1 576.7 430.3 578.1 428.9C579.5 427.5 581.4 423.8 583.1 421.4C584.8 419.1 586.1 416.6 588.1 414.8C590.0 413.0 592.5 411.9 594.7 410.6C596.9 409.4 599.1 408.6 601.3 407.3C603.6 406.1 606.0 404.8 608.0 403.2C609.9 401.5 611.6 398.5 613.0 397.4C614.3 396.2 614.6 396.1 616.3 396.5C617.9 396.9 621.0 400.4 622.9 399.8C624.9 399.3 626.2 396.0 627.9 393.2C629.6 390.4 631.3 386.2 632.9 383.3C634.4 380.3 635.8 376.2 637.0 375.8C638.3 375.4 639.1 378.8 640.3 380.8C641.6 382.7 643.0 386.7 644.5 387.4C646.0 388.1 648.1 385.4 649.5 384.9C650.8 384.4 651.4 384.0 652.8 384.6C654.2 385.1 656.6 387.6 657.8 388.2C659.0 388.8 658.8 388.8 660.0 388.1C661.2 387.4 663.3 386.2 665.0 384.0C666.6 381.8 668.3 378.3 670.0 374.9C671.6 371.4 673.3 366.8 674.9 363.3C676.6 359.7 678.3 355.4 679.9 353.3C681.6 351.2 683.0 350.7 684.9 350.8C686.8 350.9 689.3 352.5 691.5 354.1C693.7 355.8 695.9 358.8 698.2 360.8C700.4 362.7 702.6 363.9 704.8 365.7C707.0 367.5 709.5 369.5 711.4 371.5C713.4 373.6 714.8 376.8 716.4 378.2C718.1 379.6 719.5 379.0 721.4 379.8C723.3 380.7 725.8 381.2 728.0 383.2C730.2 385.1 732.5 389.0 734.7 391.5C736.9 393.9 739.1 396.0 741.3 398.1C743.5 400.2 745.7 402.3 747.9 403.9C750.1 405.5 752.6 407.0 754.6 407.7C756.5 408.4 757.9 408.5 759.6 408.0C761.2 407.6 762.9 405.1 764.5 404.7C766.2 404.4 767.8 405.9 769.5 406.1C771.2 406.2 773.0 407.2 774.5 405.6C776.0 404.0 777.4 400.7 778.6 396.4C779.9 392.1 780.7 385.9 782.0 379.8C783.2 373.8 784.6 364.7 786.1 359.9C787.6 355.2 789.4 352.1 791.1 351.3C792.7 350.5 794.1 353.0 796.1 355.0C798.0 356.9 800.9 361.0 802.7 363.3C804.4 365.5 805.4 366.7 806.6 368.2C807.8 369.7 809.2 371.1 810.0 372.4C810.8 373.6 810.5 373.3 811.6 375.7C812.7 378.0 814.9 383.3 816.5 386.5C818.2 389.7 820.6 393.1 821.4 395.0C822.2 396.9 820.9 396.8 821.5 398.1C822.1 399.4 823.7 401.2 824.9 403.0C826.1 404.7 827.5 407.3 828.9 408.4C830.2 409.6 831.3 410.0 832.8 409.9C834.3 409.8 836.3 407.7 837.8 407.9C839.3 408.2 840.3 410.1 841.8 411.4C843.3 412.7 845.2 414.6 846.8 415.9C848.3 417.2 849.8 419.1 851.2 419.4C852.7 419.6 854.1 417.8 855.7 417.4C857.3 417.0 859.2 416.8 860.7 417.1C862.2 417.3 864.0 418.6 864.7 418.9" stroke="#202020" stroke-width="0.6" fill="none" stroke-linejoin="round"/>
<path d="M1.6 439.5V1.5M962.6 1.5V438" stroke="#686868" stroke-width="1" fill="none"/>
<path d="M1 1.55H963" stroke="#606060" stroke-width="1" fill="none"/>
<line x1="1" x2="963" y1="438.0" y2="438.0" stroke="#555555" stroke-width="1.5"/>
<line x1="1" x2="963" y1="344.7" y2="344.7" stroke="#555555" stroke-width="2"/>
<line x1="963" x2="965" y1="54.0" y2="54.0" stroke="#555555" stroke-width="0.8"/>
<text x="966.7" y="56.6" font-family="Liberation Sans, sans-serif" font-size="8.5" fill="#000" stroke="#000" stroke-width="0.13" textLength="26.8" lengthAdjust="spacingAndGlyphs" text-anchor="start">150.170</text>
<line x1="963" x2="965" y1="88.1" y2="88.1" stroke="#555555" stroke-width="0.8"/>
<text x="966.7" y="90.69999999999999" font-family="Liberation Sans, sans-serif" font-size="8.5" fill="#000" stroke="#000" stroke-width="0.13" textLength="26.8" lengthAdjust="spacingAndGlyphs" text-anchor="start">149.190</text>
<line x1="963" x2="965" y1="156.2" y2="156.2" stroke="#555555" stroke-width="0.8"/>
<text x="966.7" y="158.79999999999998" font-family="Liberation Sans, sans-serif" font-size="8.5" fill="#000" stroke="#000" stroke-width="0.13" textLength="26.8" lengthAdjust="spacingAndGlyphs" text-anchor="start">147.240</text>
<line x1="963" x2="965" y1="190.2" y2="190.2" stroke="#555555" stroke-width="0.8"/>
<text x="966.7" y="192.79999999999998" font-family="Liberation Sans, sans-serif" font-size="8.5" fill="#000" stroke="#000" stroke-width="0.13" textLength="26.8" lengthAdjust="spacingAndGlyphs" text-anchor="start">146.260</text>
<line x1="963" x2="965" y1="223.7" y2="223.7" stroke="#555555" stroke-width="0.8"/>
<text x="966.7" y="226.29999999999998" font-family="Liberation Sans, sans-serif" font-size="8.5" fill="#000" stroke="#000" stroke-width="0.13" textLength="26.8" lengthAdjust="spacingAndGlyphs" text-anchor="start">145.280</text>
<line x1="963" x2="965" y1="258.1" y2="258.1" stroke="#555555" stroke-width="0.8"/>
<text x="966.7" y="260.70000000000005" font-family="Liberation Sans, sans-serif" font-size="8.5" fill="#000" stroke="#000" stroke-width="0.13" textLength="26.8" lengthAdjust="spacingAndGlyphs" text-anchor="start">144.300</text>
<line x1="963" x2="965" y1="292.1" y2="292.1" stroke="#555555" stroke-width="0.8"/>
<text x="966.7" y="294.70000000000005" font-family="Liberation Sans, sans-serif" font-size="8.5" fill="#000" stroke="#000" stroke-width="0.13" textLength="26.8" lengthAdjust="spacingAndGlyphs" text-anchor="start">143.320</text>
<line x1="963" x2="965" y1="326.1" y2="326.1" stroke="#555555" stroke-width="0.8"/>
<text x="966.7" y="328.70000000000005" font-family="Liberation Sans, sans-serif" font-size="8.5" fill="#000" stroke="#000" stroke-width="0.13" textLength="26.8" lengthAdjust="spacingAndGlyphs" text-anchor="start">142.350</text>
<rect x="963.2" y="14.6" width="32.7" height="8.7" fill="#ff0000"/>
<text x="966.7" y="21.66" font-family="Liberation Sans, sans-serif" font-size="8.5" fill="#fff" stroke="#fff" stroke-width="0.13" textLength="26.8" lengthAdjust="spacingAndGlyphs" text-anchor="start">151.218</text>
<rect x="963.2" y="39.0" width="32.7" height="8.7" fill="#ff0000"/>
<text x="966.7" y="46.1" font-family="Liberation Sans, sans-serif" font-size="8.5" fill="#fff" stroke="#fff" stroke-width="0.13" textLength="26.8" lengthAdjust="spacingAndGlyphs" text-anchor="start">150.502</text>
<rect x="963.2" y="116.4" width="32.7" height="8.7" fill="#ff0000"/>
<text x="966.7" y="123.5" font-family="Liberation Sans, sans-serif" font-size="8.5" fill="#fff" stroke="#fff" stroke-width="0.13" textLength="26.8" lengthAdjust="spacingAndGlyphs" text-anchor="start">148.276</text>
<rect x="963.2" y="166.1" width="32.7" height="8.7" fill="#ff0000"/>
<text x="966.7" y="173.2" font-family="Liberation Sans, sans-serif" font-size="8.5" fill="#fff" stroke="#fff" stroke-width="0.13" textLength="26.8" lengthAdjust="spacingAndGlyphs" text-anchor="start">146.848</text>
<rect x="963.2" y="259.7" width="32.7" height="8.7" fill="#ff0000"/>
<text x="966.7" y="266.8" font-family="Liberation Sans, sans-serif" font-size="8.5" fill="#fff" stroke="#fff" stroke-width="0.13" textLength="26.8" lengthAdjust="spacingAndGlyphs" text-anchor="start">144.159</text>
<rect x="963.2" y="332.2" width="32.7" height="8.7" fill="#ff0000"/>
<text x="966.7" y="339.3" font-family="Liberation Sans, sans-serif" font-size="8.5" fill="#fff" stroke="#fff" stroke-width="0.13" textLength="26.8" lengthAdjust="spacingAndGlyphs" text-anchor="start">142.070</text>
<rect x="963.2" y="311.7" width="32.7" height="8.2" fill="#000"/>
<text x="966.7" y="318.3" font-family="Liberation Sans, sans-serif" font-size="8.5" fill="#fff" stroke="#fff" stroke-width="0.13" textLength="26.8" lengthAdjust="spacingAndGlyphs" text-anchor="start">142.640</text>
<text x="964.8" y="352.9" font-family="Liberation Sans, sans-serif" font-size="8.5" fill="#000" stroke="#000" stroke-width="0.13" textLength="30.8" lengthAdjust="spacingAndGlyphs" text-anchor="start">1.190973</text>
<line x1="963" x2="965" y1="379.4" y2="379.4" stroke="#555555" stroke-width="0.8"/>
<text x="964.8" y="382.0" font-family="Liberation Sans, sans-serif" font-size="8.5" fill="#000" stroke="#000" stroke-width="0.13" textLength="14.2" lengthAdjust="spacingAndGlyphs" text-anchor="start">0.00</text>
<text x="965.3" y="435.3" font-family="Liberation Sans, sans-serif" font-size="8.5" fill="#000" stroke="#000" stroke-width="0.13" textLength="32.9" lengthAdjust="spacingAndGlyphs" text-anchor="start">-2.068327</text>
<path d="M3.2 5.1H8.8L6 8.0Z" fill="#000"/>
<text x="12.9" y="9.8" font-family="Liberation Sans, sans-serif" font-size="8.5" fill="#000" stroke="#000" stroke-width="0.13" textLength="35.7" lengthAdjust="spacingAndGlyphs" text-anchor="start">USDJPY,H1</text>
<text x="54.0" y="9.8" font-family="Liberation Sans, sans-serif" font-size="8.5" fill="#000" stroke="#000" stroke-width="0.13" textLength="26.0" lengthAdjust="spacingAndGlyphs" text-anchor="start">142.992</text>
<text x="83.2" y="9.8" font-family="Liberation Sans, sans-serif" font-size="8.5" fill="#000" stroke="#000" stroke-width="0.13" textLength="26.2" lengthAdjust="spacingAndGlyphs" text-anchor="start">143.046</text>
<text x="112.5" y="9.8" font-family="Liberation Sans, sans-serif" font-size="8.5" fill="#000" stroke="#000" stroke-width="0.13" textLength="26.1" lengthAdjust="spacingAndGlyphs" text-anchor="start">142.581</text>
<text x="141.8" y="9.8" font-family="Liberation Sans, sans-serif" font-size="8.5" fill="#000" stroke="#000" stroke-width="0.13" textLength="26.0" lengthAdjust="spacingAndGlyphs" text-anchor="start">142.640</text>
<text x="3.8" y="353.6" font-family="Liberation Sans, sans-serif" font-size="8.5" fill="#000" stroke="#000" stroke-width="0.13" textLength="64.4" lengthAdjust="spacingAndGlyphs" text-anchor="start">MACD_color(5,34,5)</text>
<text x="71.8" y="353.6" font-family="Liberation Sans, sans-serif" font-size="8.5" fill="#000" stroke="#000" stroke-width="0.13" textLength="29.8" lengthAdjust="spacingAndGlyphs" text-anchor="start">0.000000</text>
<text x="104.8" y="353.6" font-family="Liberation Sans, sans-serif" font-size="8.5" fill="#000" stroke="#000" stroke-width="0.13" textLength="29.8" lengthAdjust="spacingAndGlyphs" text-anchor="start">0.000000</text>
<text x="137.6" y="353.6" font-family="Liberation Sans, sans-serif" font-size="8.5" fill="#000" stroke="#000" stroke-width="0.13" textLength="34.4" lengthAdjust="spacingAndGlyphs" text-anchor="start">-1.420743</text>
<text x="2.0" y="447.5" font-family="Liberation Sans, sans-serif" font-size="8.5" fill="#000" stroke="#000" stroke-width="0.13" textLength="39.2" lengthAdjust="spacingAndGlyphs" text-anchor="start">19 Mar 2025</text>
<line x1="68.0" x2="68.0" y1="438" y2="441" stroke="#555555" stroke-width="0.8"/>
<text x="68.3" y="447.5" font-family="Liberation Sans, sans-serif" font-size="8.5" fill="#000" stroke="#000" stroke-width="0.13" textLength="42.7" lengthAdjust="spacingAndGlyphs" text-anchor="start">20 Mar 13:00</text>
<line x1="135.0" x2="135.0" y1="438" y2="441" stroke="#555555" stroke-width="0.8"/>
<text x="135.3" y="447.5" font-family="Liberation Sans, sans-serif" font-size="8.5" fill="#000" stroke="#000" stroke-width="0.13" textLength="42.7" lengthAdjust="spacingAndGlyphs" text-anchor="start">21 Mar 21:00</text>
<line x1="202.0" x2="202.0" y1="438" y2="441" stroke="#555555" stroke-width="0.8"/>
<text x="202.3" y="447.5" font-family="Liberation Sans, sans-serif" font-size="8.5" fill="#000" stroke="#000" stroke-width="0.13" textLength="42.7" lengthAdjust="spacingAndGlyphs" text-anchor="start">25 Mar 06:00</text>
<line x1="269.3" x2="269.3" y1="438" y2="441" stroke="#555555" stroke-width="0.8"/>
<text x="269.6" y="447.5" font-family="Liberation Sans, sans-serif" font-size="8.5" fill="#000" stroke="#000" stroke-width="0.13" textLength="42.7" lengthAdjust="spacingAndGlyphs" text-anchor="start">26 Mar 14:00</text>
<line x1="336.2" x2="336.2" y1="438" y2="441" stroke="#555555" stroke-width="0.8"/>
<text x="336.5" y="447.5" font-family="Liberation Sans, sans-serif" font-size="8.5" fill="#000" stroke="#000" stroke-width="0.13" textLength="42.7" lengthAdjust="spacingAndGlyphs" text-anchor="start">27 Mar 22:00</text>
<line x1="403.2" x2="403.2" y1="438" y2="441" stroke="#555555" stroke-width="0.8"/>
<text x="403.5" y="447.5" font-family="Liberation Sans, sans-serif" font-size="8.5" fill="#000" stroke="#000" stroke-width="0.13" textLength="42.7" lengthAdjust="spacingAndGlyphs" text-anchor="start">31 Mar 07:00</text>
<line x1="470.4" x2="470.4" y1="438" y2="441" stroke="#555555" stroke-width="0.8"/>
<text x="470.7" y="447.5" font-family="Liberation Sans, sans-serif" font-size="8.5" fill="#000" stroke="#000" stroke-width="0.13" textLength="37.6" lengthAdjust="spacingAndGlyphs" text-anchor="start">1 Apr 15:00</text>
<line x1="537.4" x2="537.4" y1="438" y2="441" stroke="#555555" stroke-width="0.8"/>
<text x="537.6999999999999" y="447.5" font-family="Liberation Sans, sans-serif" font-size="8.5" fill="#000" stroke="#000" stroke-width="0.13" textLength="37.6" lengthAdjust="spacingAndGlyphs" text-anchor="start">2 Apr 23:00</text>
<line x1="604.3" x2="604.3" y1="438" y2="441" stroke="#555555" stroke-width="0.8"/>
<text x="604.5999999999999" y="447.5" font-family="Liberation Sans, sans-serif" font-size="8.5" fill="#000" stroke="#000" stroke-width="0.13" textLength="37.6" lengthAdjust="spacingAndGlyphs" text-anchor="start">4 Apr 07:00</text>
<line x1="671.2" x2="671.2" y1="438" y2="441" stroke="#555555" stroke-width="0.8"/>
<text x="671.5" y="447.5" font-family="Liberation Sans, sans-serif" font-size="8.5" fill="#000" stroke="#000" stroke-width="0.13" textLength="37.6" lengthAdjust="spacingAndGlyphs" text-anchor="start">7 Apr 16:00</text>
<line x1="738.0" x2="738.0" y1="438" y2="441" stroke="#555555" stroke-width="0.8"/>
<text x="738.3" y="447.5" font-family="Liberation Sans, sans-serif" font-size="8.5" fill="#000" stroke="#000" stroke-width="0.13" textLength="37.6" lengthAdjust="spacingAndGlyphs" text-anchor="start">9 Apr 00:00</text>
<line x1="805.0" x2="805.0" y1="438" y2="441" stroke="#555555" stroke-width="0.8"/>
<text x="805.3" y="447.5" font-family="Liberation Sans, sans-serif" font-size="8.5" fill="#000" stroke="#000" stroke-width="0.13" textLength="42.7" lengthAdjust="spacingAndGlyphs" text-anchor="start">10 Apr 08:00</text>
</svg></body></html>
